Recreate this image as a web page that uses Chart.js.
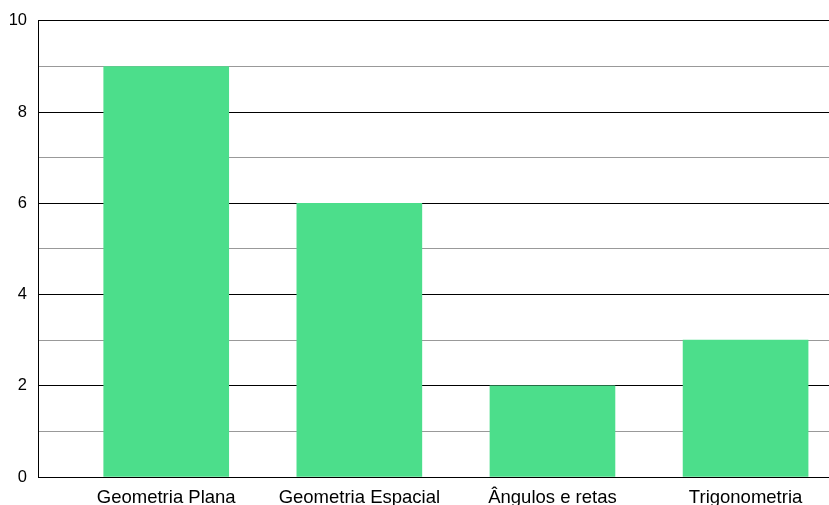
<!DOCTYPE html>
<html>
<head>
<meta charset="utf-8">
<script src="https://cdn.jsdelivr.net/npm/chart.js@4/dist/chart.umd.min.js"></script>
<style>
  html, body { margin: 0; padding: 0; background: #fff; }
  #wrap { width: 829px; height: 505px; }
</style>
</head>
<body>
<div id="wrap"><canvas id="myChart" width="829" height="505"></canvas></div>
<script>
'use strict';

const categories = ['Geometria Plana', 'Geometria Espacial', 'Ângulos e retas', 'Trigonometria'];
const values = [9, 6, 2, 3];
const yTicks = [0, 2, 4, 6, 8, 10];

const ctx = document.getElementById('myChart').getContext('2d');
const chart = new Chart(ctx, {
    'type': 'bar',
    'data': {
        'datasets': [
            {
                'label': 'Quantidade',
                'data': values.map((v, i) => ({ 'x': i, 'y': v })),
                'backgroundColor': '#4cde8b',
                'borderWidth': 0,
                'barThickness': 125
            }
        ]
    },
    'options': {
        'responsive': false,
        'animation': false,
        'layout': { 'padding': { 'top': 20, 'right': 0, 'left': 0, 'bottom': 0 } },
        'plugins': {
            'legend': { 'display': false },
            'tooltip': { 'enabled': false }
        },
        'scales': {
            'x': {
                'type': 'linear',
                'offset': false,
                'min': -0.664,
                'max': 3.432,
                'afterBuildTicks': (scale) => {
                    scale.ticks = categories.map((c, i) => ({ 'value': i }));
                },
                'afterFit': (scale) => { scale.height = 28; },
                'grid': { 'display': false, 'drawTicks': false, 'offset': false },
                'border': { 'display': true, 'color': '#000', 'width': 1 },
                'ticks': {
                    'color': '#000',
                    'font': { 'family': 'Liberation Sans, Arial', 'size': 18.5 },
                    'padding': 10,
                    'maxRotation': 0,
                    'autoSkip': false,
                    'callback': (v) => categories[v]
                }
            },
            'y': {
                'min': 0,
                'max': 10,
                'afterFit': (scale) => { scale.width = 38; },
                'grid': {
                    'drawTicks': false,
                    'color': (c) => (c.tick && yTicks.includes(c.tick.value) ? '#000' : '#999'),
                    'lineWidth': 1
                },
                'border': { 'display': true, 'color': '#000', 'width': 1 },
                'ticks': {
                    'stepSize': 1,
                    'color': '#000',
                    'font': { 'family': 'Liberation Sans, Arial', 'size': 16.5 },
                    'padding': 11,
                    'callback': (v) => (yTicks.includes(v) ? String(v) : '')
                }
            }
        }
    }
});
</script>
</body>
</html>
